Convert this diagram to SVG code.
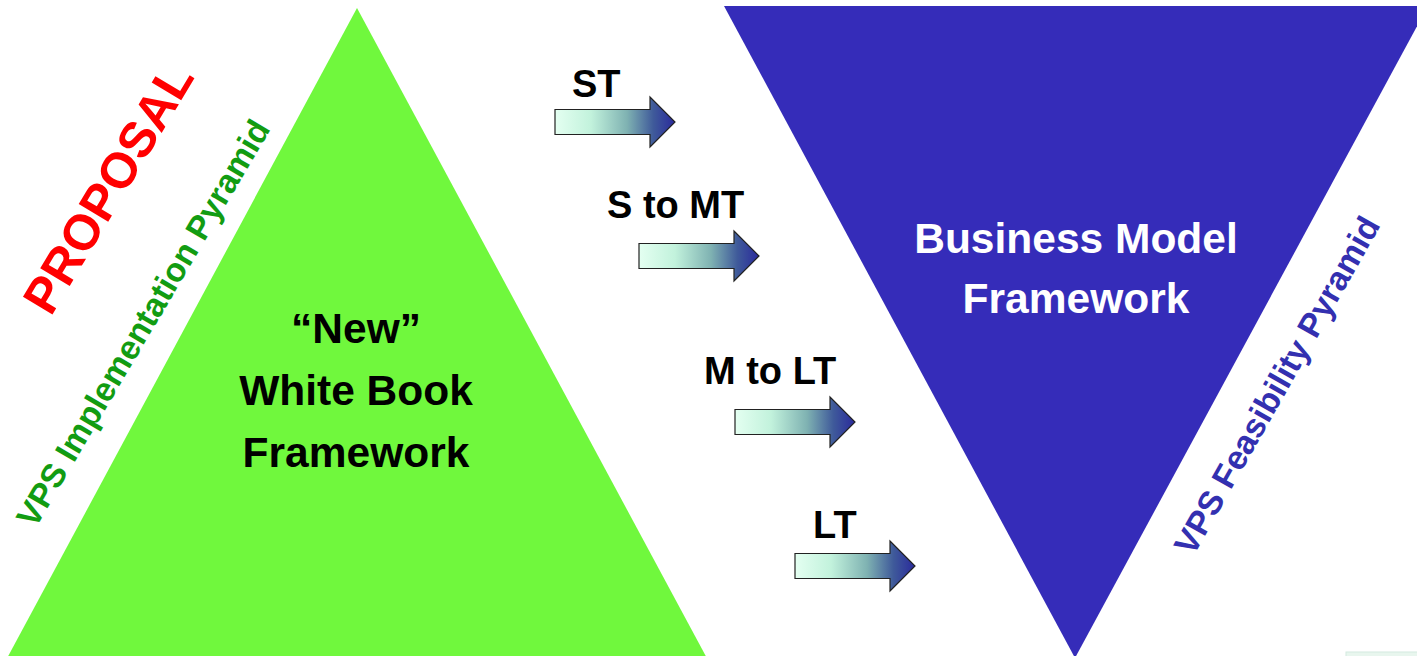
<svg xmlns="http://www.w3.org/2000/svg" width="1417" height="656" viewBox="0 0 1417 656">
<defs>
<linearGradient id="ag" x1="0" y1="0" x2="1" y2="0">
<stop offset="0" stop-color="#e4fff1"/>
<stop offset="0.3" stop-color="#c2f2dc"/>
<stop offset="0.6" stop-color="#7fb2b2"/>
<stop offset="0.82" stop-color="#3f5a9a"/>
<stop offset="1" stop-color="#2a2a9c"/>
</linearGradient>
<path id="arrow" d="M0,-12.5 H95 V-25 L120,0 L95,25 V12.5 H0 Z"/>
</defs>
<style>
.b{font-family:"Liberation Sans",Arial,sans-serif;font-weight:bold}
.lbl{font-size:38px;fill:#000}
.big{font-size:42.5px;text-anchor:middle}
.arr{fill:url(#ag);stroke:#222;stroke-width:1.2}
</style>
<rect width="1417" height="656" fill="#fff"/>
<g id="implementation-pyramid">
<polygon points="357,8 5,662 709,662" fill="#70f83d"/>
<text class="b big" x="356" fill="#000"><tspan x="356" y="343">“New”</tspan><tspan x="356" y="405">White Book</tspan><tspan x="356" y="467">Framework</tspan></text>
</g>
<g id="feasibility-pyramid">
<polygon points="724,6 1428,6 1075,658" fill="#352cb9"/>
<text class="b big" fill="#fff"><tspan x="1076" y="253">Business Model</tspan><tspan x="1076" y="313">Framework</tspan></text>
</g>
<g id="proposal">
<text class="b" font-size="50" fill="#ff0000" text-anchor="middle" transform="translate(123,197) rotate(-59)">PROPOSAL</text>
</g>
<g id="impl-label">
<text class="b" font-size="33.5" fill="#129c12" text-anchor="middle" transform="translate(153,329) rotate(-59.5)">VPS Implementation Pyramid</text>
</g>
<g id="feas-label">
<text class="b" font-size="33.5" fill="#3330b0" text-anchor="middle" transform="translate(1287,391) rotate(-60.5)">VPS Feasibility Pyramid</text>
</g>
<g id="connectors">
<use href="#arrow" class="arr" transform="translate(555,122)"/>
<use href="#arrow" class="arr" transform="translate(639,256)"/>
<use href="#arrow" class="arr" transform="translate(735,422)"/>
<use href="#arrow" class="arr" transform="translate(795,566)"/>
<text class="b lbl" x="572" y="97">ST</text>
<text class="b lbl" x="607" y="218">S to MT</text>
<text class="b lbl" x="704" y="384">M to LT</text>
<text class="b lbl" x="813" y="538">LT</text>
</g>
<rect x="1346" y="652" width="80" height="10" fill="#e8f6ee" stroke="#d4eadf" stroke-width="1"/>
</svg>
